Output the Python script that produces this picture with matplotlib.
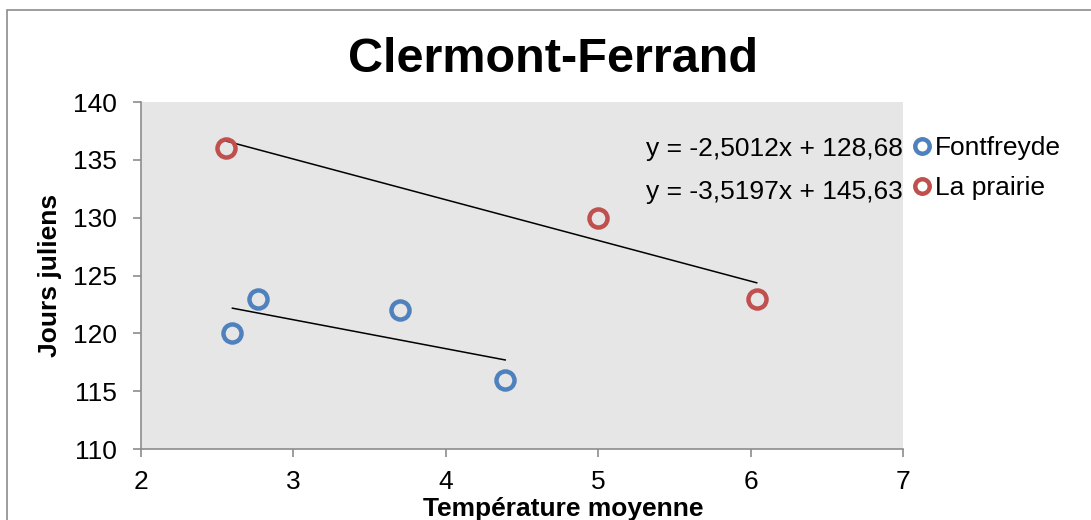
import numpy as np
import matplotlib.pyplot as plt
from matplotlib.patches import Rectangle

plt.rcParams['font.family'] = ['Liberation Sans', 'DejaVu Sans']

# Données : température moyenne vs jours juliens
font_x = [2.60, 2.77, 3.70, 4.39]
font_y = [120, 123, 122, 116]
prai_x = [2.56, 5.00, 6.04]
prai_y = [136, 130, 123]

series_names = ['Fontfreyde', 'La prairie']
colors = ['#4F81BD', '#C0504D']
fits = [(-2.5012, 128.68), (-3.5197, 145.63)]
equations = ['y = -2,5012x + 128,68', 'y = -3,5197x + 145,63']

fig = plt.figure(figsize=(10.91, 5.2), dpi=100)
fig.patches.append(Rectangle((7 / 1091, -0.1), 1.2, (520 - 10) / 520 + 0.1,
                             transform=fig.transFigure, fill=False,
                             edgecolor='#8c8c8c', linewidth=1.2))
ax = fig.add_axes([0.1292, 0.1365, 0.6985, 0.6673])
ax.set_facecolor('#E6E6E6')

for xs, ys, c, (a, b), name in zip([font_x, prai_x], [font_y, prai_y], colors, fits, series_names):
    ax.plot(xs, ys, 'o', markersize=13, markerfacecolor='none',
            markeredgecolor=c, markeredgewidth=3.2, label=name, zorder=3)
    # courbe de tendance linéaire sur l'étendue des données
    xl = np.array([min(xs), max(xs)])
    ax.plot(xl, a * xl + b, color='black', linewidth=1.1, zorder=2)

ax.set_xlim(2, 7)
ax.set_ylim(110, 140)
ax.set_xticks(range(2, 8))
ax.set_yticks(range(110, 141, 5))
ax.tick_params(labelsize=19, direction='out', length=6, color='#8c8c8c', width=1.2)
ax.tick_params(axis='y', pad=11)
ax.tick_params(axis='x', pad=9)
for s in ['top', 'right']:
    ax.spines[s].set_visible(False)
for s in ['left', 'bottom']:
    ax.spines[s].set_color('#8c8c8c')
    ax.spines[s].set_linewidth(1.2)

ax.set_xlabel('Température moyenne', fontsize=19, fontweight='bold')
ax.xaxis.set_label_coords(0.554, -0.137)
ax.set_ylabel('Jours juliens', fontsize=19, fontweight='bold', labelpad=8)
fig.text(0.507, 0.885, 'Clermont-Ferrand', fontsize=35, fontweight='bold',
         ha='center', va='center')

# équations des droites de régression
ax.text(1.0, 0.866, equations[0], transform=ax.transAxes, ha='right', va='center', fontsize=19)
ax.text(1.0, 0.742, equations[1], transform=ax.transAxes, ha='right', va='center', fontsize=19)

leg = ax.legend(loc='upper left', bbox_to_anchor=(1.016, 0.901), frameon=False,
                fontsize=19, handlelength=0.5, handletextpad=0.25, labelspacing=0.6,
                borderaxespad=0, borderpad=0, markerscale=0.8)

fig.savefig('out.png', dpi=100)
